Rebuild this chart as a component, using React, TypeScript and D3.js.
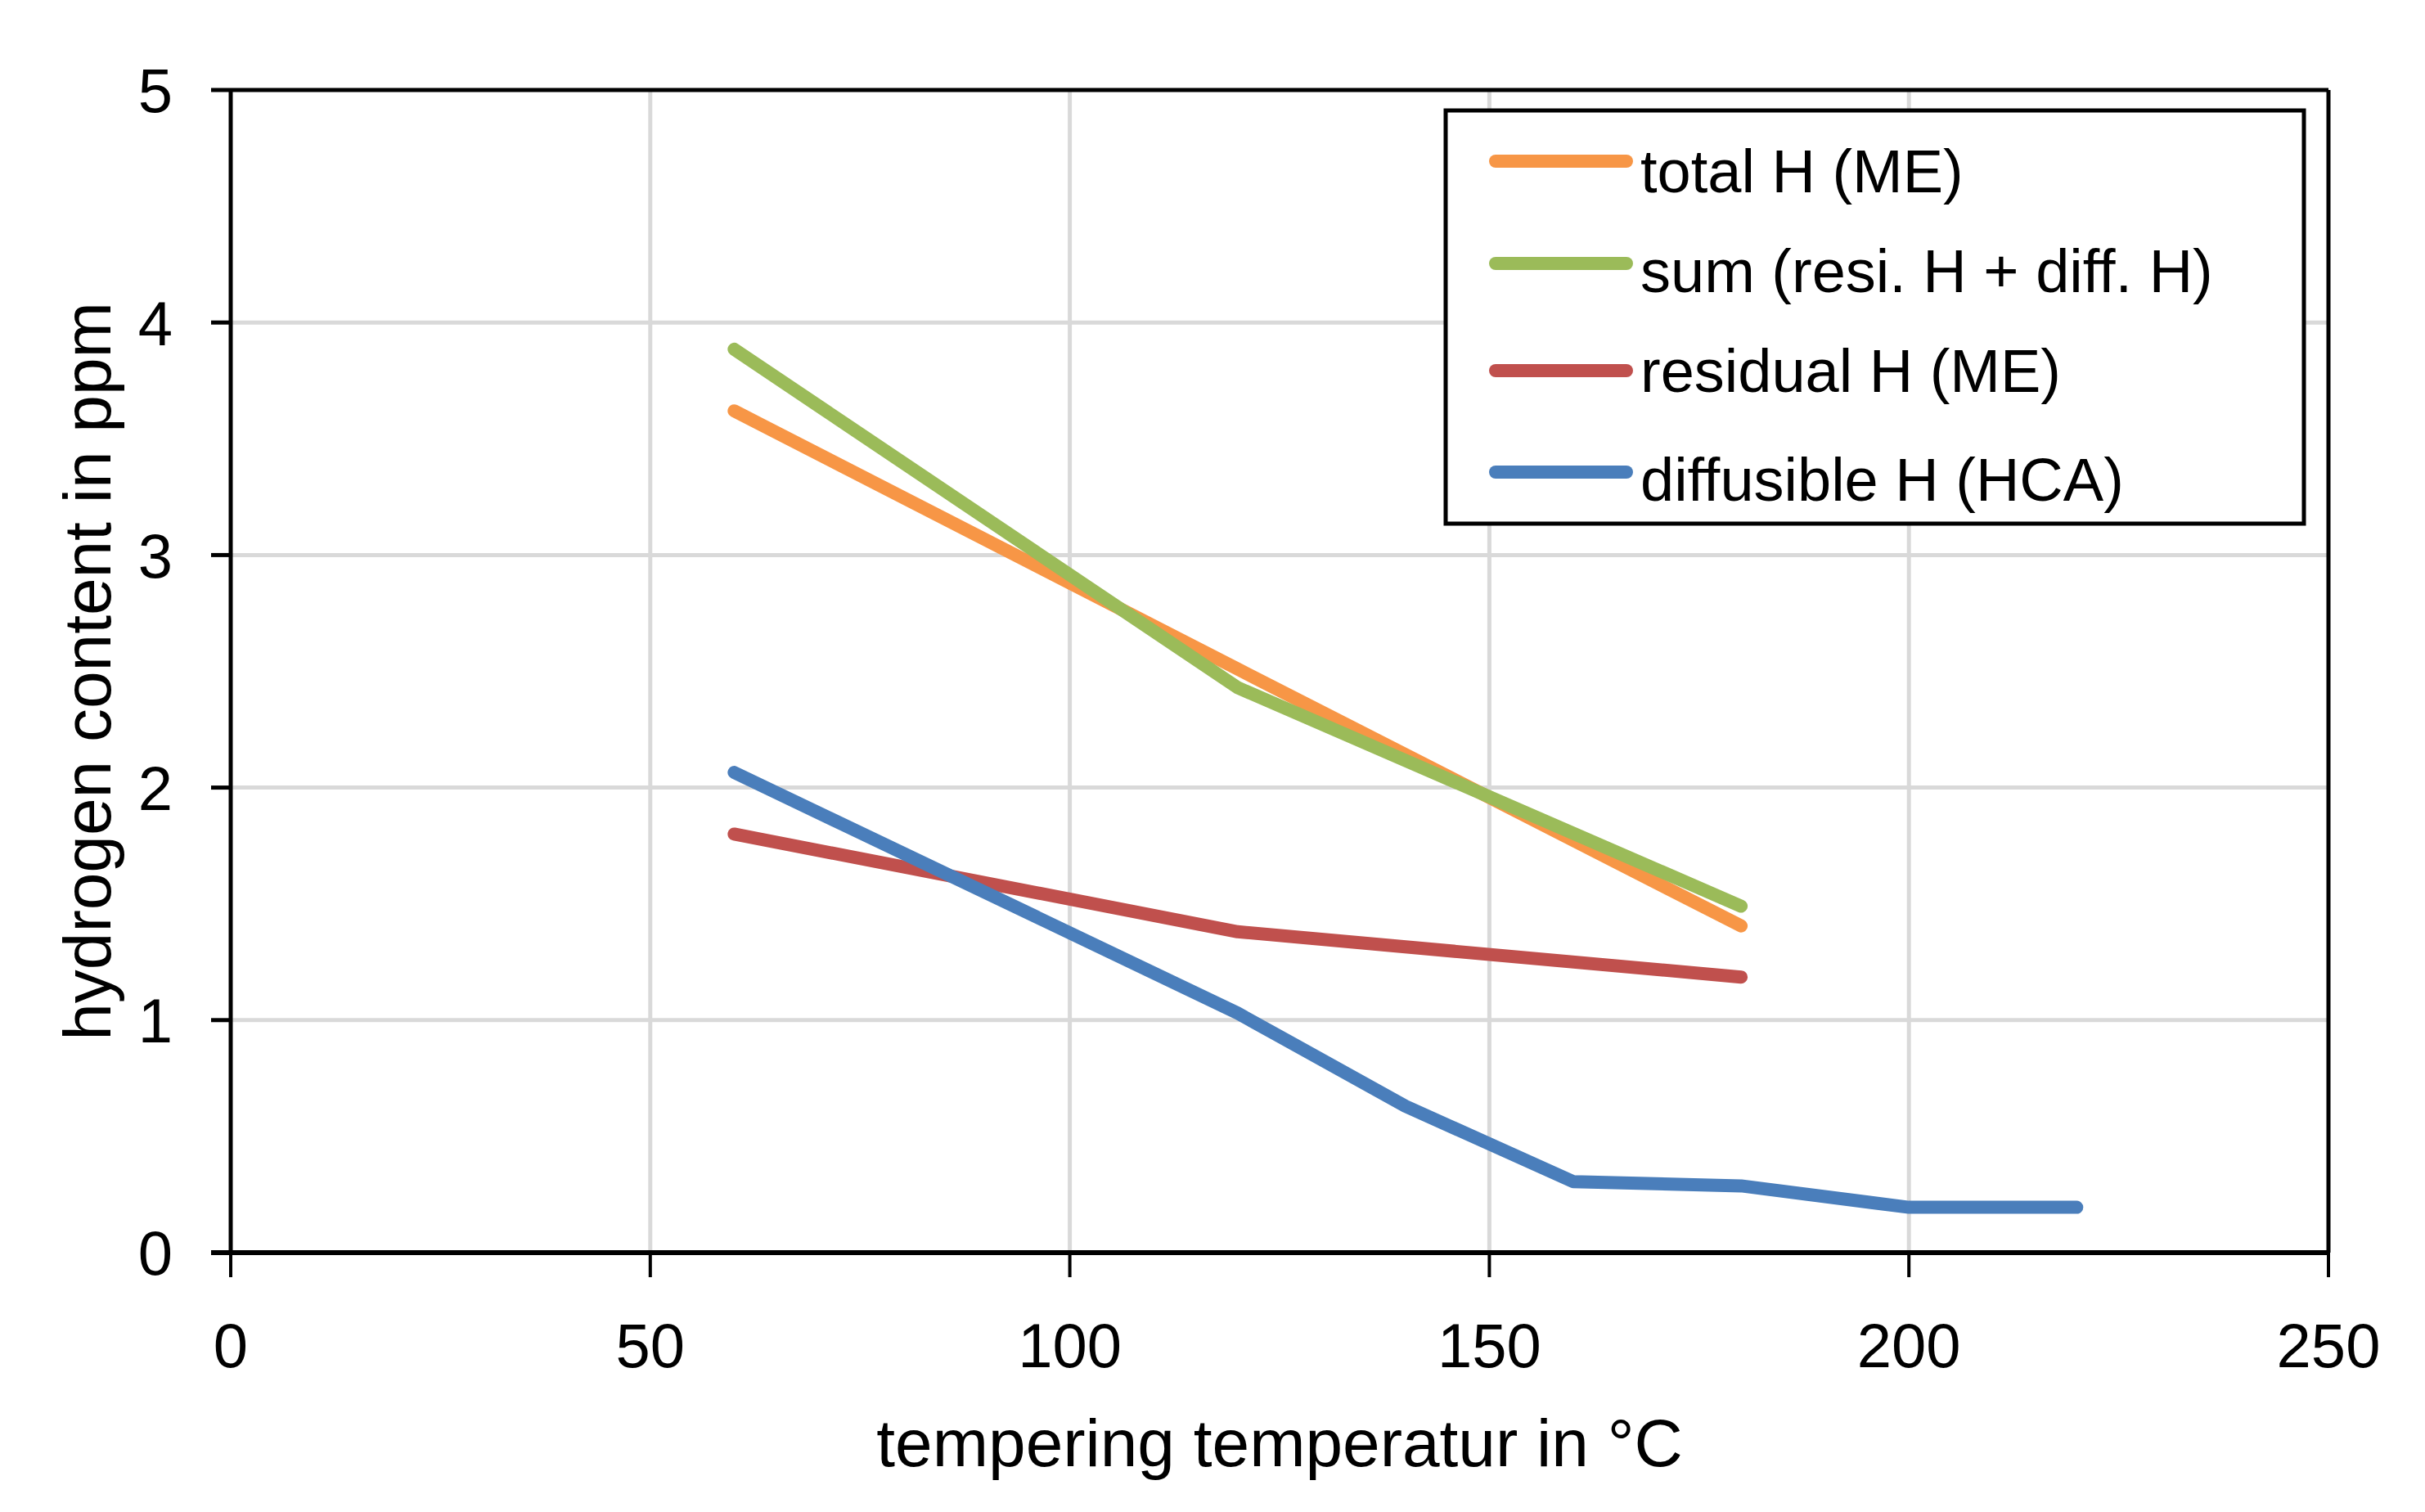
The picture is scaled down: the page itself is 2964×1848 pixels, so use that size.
import React from "react";
import * as d3 from "d3";

const temps = [60, 120, 180];
const totalH = [3.62, 2.51, 1.405];
const sumH = [3.885, 2.43, 1.49];
const residualH = [1.8, 1.38, 1.185];
const diffTemps = [60, 120, 140, 160, 180, 200, 220];
const diffusibleH = [2.065, 1.03, 0.63, 0.305, 0.287, 0.195, 0.195];

const xTicks = [0, 50, 100, 150, 200, 250];
const yTicks = [0, 1, 2, 3, 4, 5];

const seriesNames = ["total H (ME)", "sum (resi. H + diff. H)", "residual H (ME)", "diffusible H (HCA)"];
const seriesColors = ["#F79646", "#9BBB59", "#C0504D", "#4A7EBB"];

const W = 2964;
const H = 1848;
const M = { left: 282, right: 2846, top: 110, bottom: 1531 };
const FONT = "'Liberation Sans', Arial, sans-serif";

export default function App() {
  const x = d3.scaleLinear().domain([0, 250]).range([M.left, M.right]);
  const y = d3.scaleLinear().domain([0, 5]).range([M.bottom, M.top]);
  const line = d3
    .line<[number, number]>()
    .x((d) => x(d[0]))
    .y((d) => y(d[1]));

  const series: [number, number][][] = [
    temps.map((t, i) => [t, totalH[i]] as [number, number]),
    temps.map((t, i) => [t, sumH[i]] as [number, number]),
    temps.map((t, i) => [t, residualH[i]] as [number, number]),
    diffTemps.map((t, i) => [t, diffusibleH[i]] as [number, number]),
  ];

  const legend = { x0: 1767, x1: 2816, y0: 135, y1: 640 };
  const legendRows = [197, 322, 453, 577];
  const legendTextRows = [235, 357, 479, 612];

  return (
    <svg
      width={W}
      height={H}
      style={{ position: "absolute", left: 0, top: 0, background: "#fff" }}
      fontFamily={FONT}
    >
      <rect x={0} y={0} width={W} height={H} fill="#fff" />
      {/* gridlines */}
      {xTicks.slice(1, -1).map((t) => (
        <line key={"gx" + t} x1={x(t)} x2={x(t)} y1={M.top} y2={M.bottom} stroke="#d9d9d9" strokeWidth={5} />
      ))}
      {yTicks.slice(1, -1).map((t) => (
        <line key={"gy" + t} x1={M.left} x2={M.right} y1={y(t)} y2={y(t)} stroke="#d9d9d9" strokeWidth={5} />
      ))}
      {/* plot border */}
      <line x1={M.left} x2={M.right} y1={M.top} y2={M.top} stroke="#000" strokeWidth={5} />
      <line x1={M.right} x2={M.right} y1={M.top} y2={M.bottom} stroke="#000" strokeWidth={5} />
      <line x1={M.left} x2={M.left} y1={M.top} y2={M.bottom} stroke="#000" strokeWidth={5} />
      <line x1={M.left - 24} x2={M.right} y1={M.bottom} y2={M.bottom} stroke="#000" strokeWidth={6} />
      {/* y ticks */}
      {yTicks.map((t) => (
        <g key={"yt" + t}>
          <line x1={M.left - 24} x2={M.left} y1={y(t)} y2={y(t)} stroke="#000" strokeWidth={5} />
          <text x={211} y={y(t)} dy="0.36em" textAnchor="end" fontSize={76}>
            {t}
          </text>
        </g>
      ))}
      {/* x ticks */}
      {xTicks.map((t) => (
        <g key={"xt" + t}>
          <line x1={x(t)} x2={x(t)} y1={M.bottom} y2={M.bottom + 30} stroke="#000" strokeWidth={4} />
          <text x={x(t)} y={1671} textAnchor="middle" fontSize={76}>
            {t}
          </text>
        </g>
      ))}
      {/* axis titles */}
      <text x={(M.left + M.right) / 2} y={1792} textAnchor="middle" fontSize={82}>
        tempering temperatur in °C
      </text>
      <text
        transform={`translate(135, ${(M.top + M.bottom) / 2}) rotate(-90)`}
        textAnchor="middle"
        fontSize={82}
      >
        hydrogen content in ppm
      </text>
      {/* series */}
      {series.map((s, i) => (
        <path
          key={"s" + i}
          d={line(s) || ""}
          fill="none"
          stroke={seriesColors[i]}
          strokeWidth={16}
          strokeLinecap="round"
          strokeLinejoin="round"
        />
      ))}
      {/* legend */}
      <rect
        x={legend.x0}
        y={legend.y0}
        width={legend.x1 - legend.x0}
        height={legend.y1 - legend.y0}
        fill="#fff"
        stroke="#000"
        strokeWidth={5}
      />
      {seriesNames.map((n, i) => (
        <g key={"lg" + i}>
          <line
            x1={1828}
            x2={1988}
            y1={legendRows[i]}
            y2={legendRows[i]}
            stroke={seriesColors[i]}
            strokeWidth={16}
            strokeLinecap="round"
          />
          <text x={2005} y={legendTextRows[i]} fontSize={74}>
            {n}
          </text>
        </g>
      ))}
    </svg>
  );
}
